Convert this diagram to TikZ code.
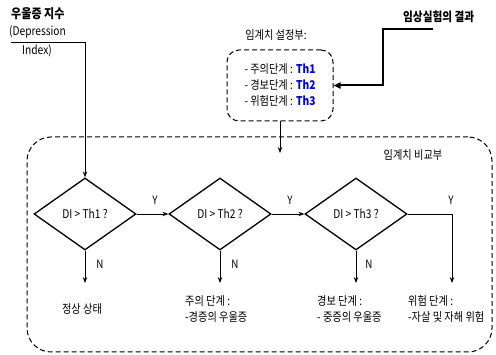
\documentclass[tikz,border=0pt]{standalone}
\usepackage{fontspec}
\setmainfont[FakeStretch=0.85]{Noto Sans CJK KR}
\usetikzlibrary{shapes.geometric,arrows.meta}
\definecolor{thblue}{RGB}{0,0,220}
\begin{document}
\begin{tikzpicture}[x=1pt,y=-1pt,
  dec/.style={diamond, draw, line width=1.3pt, minimum width=102pt, minimum height=72pt, inner sep=0pt, font=\fontsize{12}{14}\selectfont},
  dbox/.style={draw, line width=1pt, dash pattern=on 5pt off 3pt},
  arr/.style={-{Stealth[length=6pt,width=4.5pt]}, line width=0.7pt},
  thickarr/.style={-{Triangle[length=7pt,width=6pt]}, line width=2pt},
  lbl/.style={font=\fontsize{12}{16}\selectfont, inner sep=0pt},
  yn/.style={font=\fontsize{11.5}{12}\selectfont, inner sep=0pt},
]
\useasboundingbox (0,0) rectangle (496,355);

% input label
\node[lbl, font=\bfseries\fontsize{13}{15}\selectfont, anchor=west] (dititle) at (11,14) {우울증 지수};
\node[lbl, anchor=west] (dieng1) at (9,32) {(Depression};
\node[lbl, anchor=west] (dieng2) at (22,51) {Index)};
\coordinate (dstart) at (11,42);

% clinical results
\node[lbl, font=\bfseries\fontsize{12.5}{15}\selectfont, anchor=west] (clin) at (403,17) {임상실험의 결과};
\coordinate (cstart) at (433,29);
\coordinate (cbend) at (383,29);

% threshold setting box
\node[lbl] (settitle) at (276,35) {임계치 설정부:};
\node[dbox, rounded corners=12pt, minimum width=106pt, minimum height=71pt, align=left, font=\fontsize{12}{16}\selectfont] (setbox) at (280,85.5)
  {- 주의단계 : \textcolor{thblue}{\textbf{Th1}}\\- 경보단계 : \textcolor{thblue}{\textbf{Th2}}\\- 위험단계 : \textcolor{thblue}{\textbf{Th3}}};
\coordinate (setarrow) at (280,153);

% comparison box
\node[dbox, rounded corners=24pt, minimum width=465pt, minimum height=215pt] (cmpbox) at (259.5,244.5) {};
\node[lbl] (cmptitle) at (413,155) {임계치 비교부};

% diamonds
\node[dec] (d1) at (85,214) {DI > Th1 ?};
\node[dec] (d2) at (220,214) {DI > Th2 ?};
\node[dec] (d3) at (356,214) {DI > Th3 ?};

% outcome ends
\coordinate (n1) at (85,283);
\coordinate (n2) at (220,283);
\coordinate (n3) at (356,283);
\coordinate (n4) at (452,283);

% outcomes
\node[lbl] (o1) at (82,309) {정상 상태};
\node[lbl, align=left, anchor=north west] (o2) at (185,295) {주의 단계 :\\-경증의 우울증};
\node[lbl, align=left, anchor=north west] (o3) at (317,295) {경보 단계 :\\- 중증의 우울증};
\node[lbl, align=left, anchor=north west] (o4) at (408,295) {위험 단계 :\\-자살 및 자해 위험};

% connectors
\draw[arr] (dstart) -| (d1.north);
\draw[thickarr] (cstart) -- (cbend) |- (setbox.east);
\draw[arr] (setbox.south) -- (setarrow);
\draw[arr] (d1.east) -- (d2.west);
\draw[arr] (d2.east) -- (d3.west);
\draw[arr] (d3.east) -| (n4);
\draw[arr] (d1.south) -- (n1);
\draw[arr] (d2.south) -- (n2);
\draw[arr] (d3.south) -- (n3);

% Y / N labels
\node[yn] (y1) at (155,200) {Y};
\node[yn] (y2) at (290,200) {Y};
\node[yn] (y3) at (451,200) {Y};
\node[yn] (nn1) at (100,264) {N};
\node[yn] (nn2) at (235,264) {N};
\node[yn] (nn3) at (369,264) {N};
\end{tikzpicture}
\end{document}
